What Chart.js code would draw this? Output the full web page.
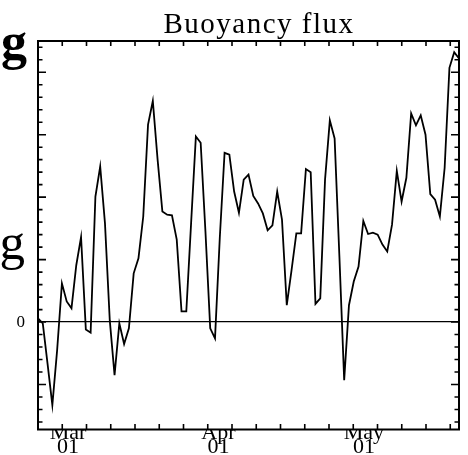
<!DOCTYPE html>
<html>
<head>
<meta charset="utf-8">
<script src="https://cdn.jsdelivr.net/npm/chart.js@4.4.1/dist/chart.umd.min.js"></script>
<style>
  html, body { margin: 0; padding: 0; background: #fff; }
</style>
</head>
<body>
<canvas id="myChart" width="468" height="455"></canvas>
<script>
// buoyancy flux samples, starting Feb 23
var flux = [
  0.06, -0.02, -0.67, -1.33, -0.45, 0.62, 0.33, 0.22, 0.91, 1.36,
  -0.12, -0.17, 2.01, 2.49, 1.58, 0.03, -0.85, -0.02, -0.35, -0.10,
  0.78, 1.02, 1.69, 3.16, 3.54, 2.60, 1.77, 1.72, 1.71, 1.32,
  0.17, 0.17, 1.58, 2.97, 2.87, 1.45, -0.10, -0.26, 1.35, 2.71,
  2.68, 2.09, 1.75, 2.28, 2.36, 2.02, 1.90, 1.74, 1.47, 1.55,
  2.09, 1.64, 0.27, 0.83, 1.42, 1.42, 2.45, 2.40, 0.29, 0.38,
  2.28, 3.23, 2.94, 1.05, -0.93, 0.27, 0.65, 0.89, 1.62, 1.41,
  1.43, 1.40, 1.24, 1.13, 1.56, 2.42, 1.93, 2.31, 3.34, 3.15,
  3.31, 3.00, 2.05, 1.96, 1.69, 2.47, 4.07, 4.32, 4.22
];
var sampleStep = 0.9864;          // days between samples
var monthDays = [6, 37, 67];      // Mar 1, Apr 1, May 1
var monthNames = ['Mar', 'Apr', 'May'];
var dayNames = ['01', '01', '01'];
var yLabelValues = [0];
var yMin = -1.72, yMax = 4.5;
var xTickStep = 5;
var yMinorStep = 0.2;
var titleText = 'Buoyancy flux';

Chart.defaults.font.family = '"Liberation Serif"';
Chart.defaults.color = '#000';

// frame, inward tick marks, title and the clipped letters at the left edge
var framePlugin = {
  id: 'frame',
  afterDraw: function(chart) {
    var ctx = chart.ctx;
    var a = chart.chartArea;
    var xs = chart.scales.x, ys = chart.scales.y;
    ctx.save();
    ctx.strokeStyle = '#000';
    ctx.lineWidth = 2;
    ctx.strokeRect(a.left, a.top, a.right - a.left, a.bottom - a.top);

    ctx.lineWidth = 1.6;
    ctx.beginPath();
    for (var d = xTickStep; d < xs.max; d += xTickStep) {
      var px = xs.getPixelForValue(d);
      ctx.moveTo(px, a.bottom); ctx.lineTo(px, a.bottom - 5.5);
      ctx.moveTo(px, a.top); ctx.lineTo(px, a.top + 5);
    }
    var k0 = Math.ceil(yMin / yMinorStep), k1 = Math.floor(yMax / yMinorStep);
    for (var k = k0; k <= k1; k++) {
      var py = ys.getPixelForValue(k * yMinorStep);
      var len = (k % 5 === 0) ? 8 : 4.5;
      ctx.moveTo(a.left, py); ctx.lineTo(a.left + len, py);
      ctx.moveTo(a.right, py); ctx.lineTo(a.right - len, py);
    }
    ctx.stroke();

    ctx.fillStyle = '#000';
    ctx.textBaseline = 'alphabetic';
    ctx.textAlign = 'center';
    ctx.font = '29px "Liberation Serif"';
    ctx.letterSpacing = '1.5px';
    ctx.fillText(titleText, 259, 33);
    ctx.letterSpacing = '0px';

    ctx.textAlign = 'right';
    ctx.font = 'bold 52px "Liberation Serif"';
    ctx.fillText('g', 27, 59);
    ctx.font = '51px "Liberation Serif"';
    ctx.fillText('g', 25, 259);
    ctx.restore();
  }
};

var ctx = document.getElementById('myChart').getContext('2d');
var myChart = new Chart(ctx, {
  type: 'line',
  data: {
    datasets: [{
      data: flux.map(function(v, i) { return { x: i * sampleStep, y: v }; }),
      borderColor: '#000',
      borderWidth: 1.8,
      pointRadius: 0,
      tension: 0,
      fill: false
    }]
  },
  options: {
    responsive: false,
    animation: false,
    layout: { padding: { top: 41, right: 9, left: 0, bottom: 0 } },
    plugins: {
      legend: { display: false },
      tooltip: { enabled: false }
    },
    scales: {
      x: {
        type: 'linear',
        min: 0,
        max: (flux.length - 1) * sampleStep,
        afterBuildTicks: function(s) {
          s.ticks = monthDays.map(function(d) { return { value: d }; });
        },
        afterFit: function(s) { s.height = 25.5; },
        grid: { display: false, drawTicks: false },
        border: { display: false },
        ticks: {
          autoSkip: false,
          maxRotation: 0,
          padding: -3,
          labelOffset: 1,
          font: { size: 22, lineHeight: 0.62 },
          callback: function(v, i) { return [monthNames[i], dayNames[i]]; }
        }
      },
      y: {
        min: yMin,
        max: yMax,
        afterBuildTicks: function(s) {
          s.ticks = yLabelValues.map(function(v) { return { value: v }; });
        },
        afterFit: function(s) { s.width = 38; },
        grid: { color: '#000', lineWidth: 1.3, drawTicks: false },
        border: { display: false },
        ticks: {
          padding: 13,
          font: { size: 17 },
          callback: function(v) { return String(v); }
        }
      }
    }
  },
  plugins: [framePlugin]
});
</script>
</body>
</html>
